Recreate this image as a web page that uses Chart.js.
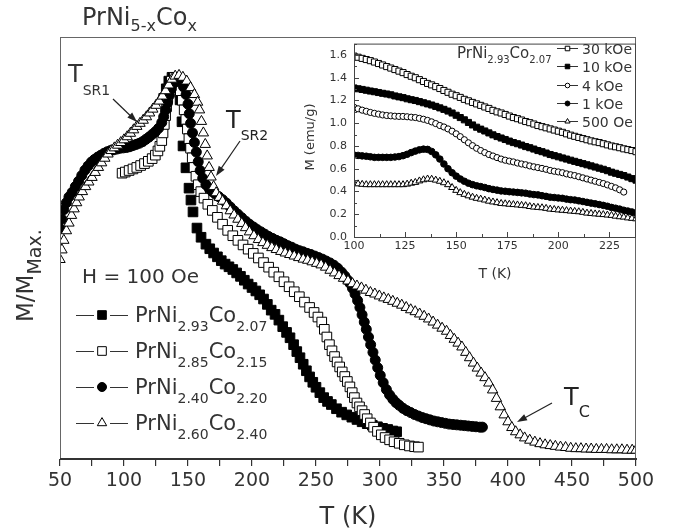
<!DOCTYPE html>
<html>
<head>
<meta charset="utf-8">
<script src="https://cdn.jsdelivr.net/npm/chart.js@4.4.0/dist/chart.umd.min.js"></script>
<style>
  body { margin: 0; background: #fff; }
  #wrap { position: relative; width: 674px; height: 531px; }
  #main { position: absolute; left: 0; top: 0; }
  #inset { position: absolute; left: 290px; top: 30px; }
</style>
</head>
<body>
<div id="wrap">
  <canvas id="main" width="674" height="531"></canvas>
  <canvas id="inset" width="384" height="260"></canvas>
</div>
<script>
// main plot, H = 100 Oe, normalised M (peak = 1)
var triT = [50,51.5,53,55,57,59,61,63,65,67.5,70,72.5,75,77.5,80,82.5,85,87.5,90,92.5,95,97.5,100,102.5,105,107.5,110,112.5,115,117.5,120,122.5,125,127.5,130,132.5,135,137.5,140,143,146,149,152,155,157.5,159,160.5,162,163.5,165,166.5,168,170,172,174.5,177,180,183,186,189,192,195,198,201.5,205,208.5,212,215.5,219,222.5,226,229.5,233,236.5,240,243.5,247,250.5,254,257.5,261,264.5,268,271.5,275,278.5,282,285.5,289,292.5,296,299.5,303,306.5,310,313.5,317,320.5,324,327.5,331,334.5,338,341.5,345,348.5,352,355,358,361,364,367,370,373,376,379,382,385,388,391,394,397,400,403,406,409.5,413,417,421,425,429,433,437,441,445,449,453,457,461,465,469,473,477,481,485,489,493,497,500];
var triM = [0.52,0.545,0.57,0.595,0.615,0.635,0.652,0.668,0.683,0.697,0.71,0.722,0.734,0.747,0.76,0.772,0.784,0.795,0.804,0.811,0.818,0.825,0.832,0.84,0.849,0.858,0.867,0.875,0.883,0.892,0.902,0.912,0.922,0.933,0.946,0.96,0.975,0.99,0.998,1.0,0.995,0.985,0.968,0.95,0.93,0.91,0.88,0.85,0.82,0.79,0.76,0.735,0.71,0.694,0.682,0.672,0.66,0.647,0.636,0.625,0.614,0.603,0.592,0.582,0.572,0.564,0.557,0.551,0.546,0.541,0.537,0.533,0.529,0.525,0.521,0.518,0.514,0.51,0.506,0.5,0.492,0.485,0.478,0.471,0.464,0.457,0.451,0.446,0.44,0.434,0.43,0.425,0.42,0.416,0.411,0.406,0.401,0.395,0.389,0.384,0.378,0.372,0.365,0.357,0.349,0.341,0.333,0.322,0.312,0.302,0.292,0.278,0.264,0.25,0.237,0.224,0.212,0.198,0.18,0.158,0.136,0.115,0.097,0.082,0.071,0.063,0.055,0.049,0.044,0.04,0.037,0.035,0.033,0.031,0.03,0.028,0.027,0.027,0.026,0.026,0.025,0.025,0.025,0.024,0.024,0.024,0.023,0.023,0.023];

var cirT = [50,51.5,53,55,57,59.5,62,64.5,67,69.5,72,74.5,77,79.5,82,84.5,87,89.5,92,94.5,97,99.5,102,104.5,107,109.5,112,114.5,117,119.5,122,124.5,127,129.5,131,132.5,134,135.5,137,139,141.5,144,146.5,148.5,150,151,152,153.5,155,156.5,158,159.5,161.5,164,166.5,169,171.5,174,177,180,183,186,189,192,195,198,201,204,207,210,213,216,219,222,225,228,231,234,237,240,243,246,249,252,255,258,261,264,267,270,272.5,274.5,276.5,278.5,280.5,282.5,284.3,286,287.7,289.3,291,292.7,294.5,296.3,298.2,300.2,302.5,305,307.5,310,312.5,315,318,321,324,327,330,333,336,339,342,345,348,351,354,357,360,363,366,369,372,375,378,380];
var cirM = [0.60,0.625,0.65,0.668,0.683,0.695,0.71,0.724,0.739,0.753,0.764,0.774,0.781,0.787,0.792,0.797,0.801,0.804,0.806,0.808,0.81,0.811,0.812,0.814,0.817,0.82,0.823,0.827,0.833,0.839,0.846,0.853,0.862,0.877,0.892,0.91,0.928,0.948,0.965,0.98,0.99,0.985,0.97,0.95,0.925,0.9,0.875,0.85,0.825,0.8,0.775,0.752,0.732,0.715,0.705,0.697,0.69,0.684,0.676,0.667,0.657,0.647,0.638,0.629,0.62,0.612,0.605,0.598,0.592,0.586,0.58,0.575,0.57,0.566,0.561,0.556,0.552,0.547,0.543,0.54,0.536,0.533,0.529,0.525,0.521,0.516,0.511,0.505,0.497,0.487,0.477,0.467,0.458,0.445,0.43,0.413,0.395,0.376,0.357,0.338,0.318,0.298,0.278,0.258,0.238,0.218,0.199,0.181,0.167,0.156,0.147,0.14,0.132,0.126,0.121,0.116,0.112,0.108,0.105,0.102,0.099,0.097,0.095,0.093,0.091,0.09,0.089,0.088,0.087,0.086,0.085,0.084,0.083,0.083];

var sqfT = [131,133,135,137.5,140,142,143.8,145.3,146.1,148.4,150.8,152.3,153.9,157,160.2,164,167,170,173,176,179,182,185,188,191,194,197,200,203,206,209,212,215,218,221,224,227,229.7,232.5,235,237.5,240,242.5,245,247.5,250,253,256,259,262,266,270,274,278,282,286,290,294,298,302,306,310,313];
var sqfM = [0.94,0.965,0.985,0.995,0.99,0.97,0.936,0.879,0.816,0.759,0.706,0.675,0.644,0.602,0.578,0.56,0.548,0.537,0.527,0.517,0.508,0.501,0.494,0.485,0.476,0.466,0.456,0.447,0.438,0.428,0.417,0.403,0.388,0.377,0.362,0.345,0.33,0.316,0.298,0.28,0.264,0.247,0.23,0.214,0.2,0.187,0.173,0.16,0.15,0.142,0.131,0.122,0.115,0.109,0.103,0.097,0.092,0.088,0.084,0.08,0.077,0.073,0.071];

var sqoT = [98.5,101,104,107,110,113,116,119,122,124.5,126.5,128,129.5,130.5,131.5,132.5,133.3,134.2,135.3,137,139.5,142,144,145.5,147,148.3,149.5,150.7,152,153.3,154.7,156.2,158,160,162.5,165.5,169,173,177,181,185,189,193,197,201,205,209,213,217,221,225,229,233,237,241,245,248.5,251.5,254.5,256.5,258.5,260.5,262.5,264.5,266.5,268.5,270.5,272.5,274.5,276.5,278.3,280,282,284,286,288,290,292.5,295,298,301,304,307.5,311,315,319,323,327,330];
var sqoM = [0.745,0.748,0.752,0.756,0.76,0.765,0.77,0.776,0.783,0.792,0.803,0.815,0.83,0.85,0.872,0.895,0.918,0.942,0.965,0.985,0.995,0.985,0.96,0.935,0.91,0.885,0.86,0.835,0.81,0.785,0.76,0.737,0.715,0.697,0.68,0.664,0.648,0.63,0.612,0.596,0.582,0.57,0.558,0.547,0.536,0.524,0.512,0.5,0.487,0.475,0.462,0.449,0.436,0.423,0.409,0.395,0.382,0.37,0.357,0.338,0.318,0.298,0.282,0.267,0.253,0.24,0.227,0.215,0.202,0.188,0.173,0.16,0.146,0.136,0.126,0.116,0.105,0.094,0.083,0.072,0.063,0.056,0.05,0.045,0.041,0.037,0.034,0.032,0.031];

var niSub = ['2.93', '2.85', '2.40', '2.60'];
var coSub = ['2.07', '2.15', '2.20', '2.40'];
var mainXTicks = [50, 100, 150, 200, 250, 300, 350, 400, 450, 500];

// inset, PrNi2.93Co2.07 at several fields (emu/g)
var insetT = [100,102,104,106,108,110,112,114,116,118,120,122,124,126,128,130,132,134,136,138,140,142,144,146,148,150,152,154,156,158,160,162,164,166,168,170,172,174,176,178,180,182,184,186,188,190,192,194,196,198,200,202,204,206,208,210,212,214,216,218,220,222,224,226,228,230,232,234,236,238];
var m30k = [1.59,1.58,1.57,1.56,1.55,1.538,1.525,1.512,1.498,1.485,1.472,1.458,1.445,1.428,1.413,1.40,1.383,1.367,1.35,1.337,1.322,1.305,1.288,1.272,1.255,1.242,1.227,1.21,1.197,1.183,1.17,1.157,1.143,1.13,1.113,1.1,1.09,1.077,1.063,1.05,1.04,1.028,1.015,1.005,0.993,0.98,0.97,0.96,0.95,0.94,0.93,0.92,0.907,0.895,0.885,0.875,0.865,0.855,0.845,0.837,0.83,0.82,0.81,0.80,0.793,0.785,0.775,0.768,0.76,0.75];
var m10k = [1.31,1.303,1.297,1.29,1.283,1.277,1.27,1.263,1.257,1.25,1.24,1.232,1.225,1.215,1.207,1.20,1.19,1.18,1.17,1.16,1.148,1.135,1.122,1.107,1.09,1.07,1.05,1.03,1.007,0.985,0.965,0.948,0.932,0.915,0.898,0.883,0.87,0.857,0.843,0.83,0.82,0.808,0.795,0.785,0.773,0.76,0.75,0.738,0.725,0.715,0.705,0.695,0.685,0.675,0.665,0.655,0.645,0.635,0.625,0.615,0.605,0.595,0.583,0.57,0.56,0.55,0.54,0.527,0.513,0.50];
var m4k = [1.14,1.127,1.115,1.105,1.095,1.087,1.08,1.073,1.068,1.065,1.062,1.06,1.06,1.057,1.053,1.05,1.043,1.035,1.025,1.012,0.997,0.98,0.967,0.95,0.93,0.907,0.882,0.855,0.828,0.803,0.78,0.76,0.742,0.725,0.712,0.698,0.685,0.675,0.667,0.66,0.65,0.642,0.635,0.625,0.617,0.61,0.603,0.595,0.585,0.578,0.572,0.565,0.555,0.547,0.54,0.53,0.52,0.51,0.5,0.49,0.48,0.47,0.458,0.445,0.432,0.415,0.395];
var m1k = [0.72,0.717,0.713,0.71,0.705,0.70,0.70,0.70,0.70,0.70,0.703,0.707,0.715,0.727,0.742,0.755,0.766,0.772,0.77,0.752,0.722,0.685,0.642,0.6,0.565,0.535,0.51,0.49,0.473,0.46,0.45,0.443,0.435,0.425,0.418,0.412,0.405,0.402,0.398,0.395,0.392,0.388,0.385,0.378,0.373,0.37,0.363,0.357,0.35,0.347,0.343,0.34,0.333,0.328,0.325,0.318,0.312,0.305,0.298,0.292,0.285,0.278,0.27,0.26,0.253,0.245,0.235,0.228,0.22,0.21];
var m500 = [0.47,0.467,0.463,0.46,0.46,0.46,0.46,0.46,0.46,0.46,0.46,0.46,0.46,0.465,0.473,0.48,0.493,0.503,0.51,0.508,0.5,0.49,0.477,0.46,0.435,0.41,0.39,0.375,0.362,0.35,0.34,0.333,0.325,0.315,0.308,0.302,0.295,0.292,0.288,0.285,0.282,0.278,0.275,0.268,0.263,0.26,0.257,0.252,0.245,0.242,0.238,0.235,0.232,0.228,0.225,0.222,0.217,0.21,0.207,0.203,0.2,0.197,0.193,0.19,0.183,0.178,0.175,0.168,0.164,0.16];
var insetFields = ['30 kOe', '10 kOe', '4 kOe', '1 kOe', '500 Oe'];

var FONT = '"DejaVu Sans", Verdana, sans-serif';
var INK = '#333';
Chart.defaults.font.family = FONT;
Chart.defaults.color = INK;

function pts(ts, ms) {
  return ms.map(function (m, i) { return { x: ts[i], y: m }; });
}

// text with subscripts: parts = [text, size, dy]
function rich(ctx, x, y, parts) {
  parts.forEach(function (p) {
    ctx.font = p[1] + 'px ' + FONT;
    ctx.fillText(p[0], x, y + (p[2] || 0));
    x += ctx.measureText(p[0]).width;
  });
}

function marker(ctx, style, x, y, r, fill) {
  ctx.beginPath();
  if (style === 'rect') {
    var s = r / Math.SQRT2;
    ctx.rect(x - s, y - s, 2 * s, 2 * s);
  } else if (style === 'circle') {
    ctx.arc(x, y, r, 0, Math.PI * 2);
  } else {
    for (var k = 0; k < 3; k++) {
      var a = k * 2 * Math.PI / 3;
      var px = x + Math.sin(a) * r, py = y - Math.cos(a) * r;
      if (k) ctx.lineTo(px, py); else ctx.moveTo(px, py);
    }
    ctx.closePath();
  }
  ctx.fillStyle = fill;
  ctx.fill();
  ctx.strokeStyle = '#000';
  ctx.lineWidth = 1;
  ctx.stroke();
}

function arrow(ctx, x1, y1, x2, y2) {
  var ang = Math.atan2(y2 - y1, x2 - x1), L = 10, W = 3.5;
  var c = Math.cos(ang), s = Math.sin(ang);
  ctx.strokeStyle = '#222';
  ctx.lineWidth = 1.2;
  ctx.beginPath();
  ctx.moveTo(x1, y1);
  ctx.lineTo(x2 - c * L * 0.8, y2 - s * L * 0.8);
  ctx.stroke();
  ctx.beginPath();
  ctx.moveTo(x2, y2);
  ctx.lineTo(x2 - L * c + W * s, y2 - L * s - W * c);
  ctx.lineTo(x2 - L * c - W * s, y2 - L * s + W * c);
  ctx.closePath();
  ctx.fillStyle = '#222';
  ctx.fill();
}

function ds(label, data, style, r, fill, order) {
  return {
    label: label, data: data, showLine: false, order: order,
    pointStyle: style, pointRadius: r, pointHoverRadius: r,
    pointBackgroundColor: fill, pointBorderColor: '#000', pointBorderWidth: 1
  };
}

// MAIN CHART
var mainStyles = [['rect', '#000'], ['rect', '#fff'], ['circle', '#000'], ['triangle', '#fff']];
var mainRadius = { rect: 6.8, circle: 5, triangle: 6 };

var mainDecor = {
  id: 'mainDecor',
  afterDraw: function (chart) {
    var ctx = chart.ctx, a = chart.chartArea;
    ctx.save();
    ctx.strokeStyle = '#666';
    ctx.lineWidth = 1;
    ctx.strokeRect(a.left + 0.5, a.top + 0.5, a.right - a.left - 1, a.bottom - a.top);
    ctx.strokeStyle = INK;
    ctx.lineWidth = 2;
    ctx.beginPath();
    ctx.moveTo(a.left, a.bottom);
    ctx.lineTo(a.right + 1, a.bottom);
    ctx.stroke();

    ctx.fillStyle = INK;
    ctx.textBaseline = 'alphabetic';
    ctx.textAlign = 'left';
    // title
    rich(ctx, 82, 25, [['PrNi', 24], ['5-x', 16, 6], ['Co', 24], ['x', 16, 6]]);
    // x title
    ctx.font = '24px ' + FONT;
    ctx.textAlign = 'center';
    ctx.fillText('T (K)', (a.left + a.right) / 2, 524);
    ctx.textAlign = 'left';
    // y title
    ctx.save();
    ctx.translate(33, 322);
    ctx.rotate(-Math.PI / 2);
    rich(ctx, 0, 0, [['M/M', 23], ['Max.', 19, 8]]);
    ctx.restore();

    // annotations
    rich(ctx, 68, 82, [['T', 24], ['SR1', 14, 13]]);
    arrow(ctx, 113, 99, 137, 122);
    rich(ctx, 226, 128, [['T', 24], ['SR2', 14, 12]]);
    arrow(ctx, 240, 141, 216, 176);
    rich(ctx, 564, 405, [['T', 24], ['C', 16, 12]]);
    arrow(ctx, 552, 403, 517, 422);

    // legend
    ctx.fillStyle = INK;
    ctx.font = '20px ' + FONT;
    ctx.fillText('H = 100 Oe', 82, 283);
    for (var i = 0; i < 4; i++) {
      var yb = 322 + 36 * i, ym = yb - 7;
      ctx.strokeStyle = INK;
      ctx.lineWidth = 1;
      ctx.beginPath();
      ctx.moveTo(76, ym + 0.5);
      ctx.lineTo(94, ym + 0.5);
      ctx.moveTo(110, ym + 0.5);
      ctx.lineTo(128, ym + 0.5);
      ctx.stroke();
      var st = mainStyles[i][0];
      marker(ctx, st, 102, ym, mainRadius[st] * 0.9, mainStyles[i][1]);
      ctx.fillStyle = INK;
      rich(ctx, 135, yb, [['PrNi', 21], [niSub[i], 14, 9], ['Co', 21], [coSub[i], 14, 9]]);
    }
    ctx.restore();
  }
};

new Chart(document.getElementById('main'), {
  type: 'scatter',
  data: {
    datasets: [
      ds('PrNi' + niSub[3] + 'Co' + coSub[3], pts(triT, triM), 'triangle', mainRadius.triangle, '#fff', 0),
      ds('PrNi' + niSub[2] + 'Co' + coSub[2], pts(cirT, cirM), 'circle', mainRadius.circle, '#000', 1),
      ds('PrNi' + niSub[1] + 'Co' + coSub[1], pts(sqoT, sqoM), 'rect', mainRadius.rect, '#fff', 2),
      ds('PrNi' + niSub[0] + 'Co' + coSub[0], pts(sqfT, sqfM), 'rect', mainRadius.rect, '#000', 3)
    ]
  },
  options: {
    responsive: false,
    animation: false,
    events: [],
    layout: { padding: { top: 37, right: 38, left: 0, bottom: 0 } },
    plugins: { legend: { display: false }, tooltip: { enabled: false } },
    scales: {
      x: {
        type: 'linear', min: 50, max: 500,
        ticks: {
          stepSize: 25, autoSkip: false, maxRotation: 0, padding: 4,
          font: { size: 19 }, color: INK,
          callback: function (v) { return mainXTicks.indexOf(v) >= 0 ? v : ''; }
        },
        grid: { display: true, drawOnChartArea: false, drawTicks: true, tickLength: 7, color: INK, lineWidth: 1.2 },
        border: { display: false },
        afterFit: function (s) { s.height = 72; }
      },
      y: {
        min: 0, max: 1.1,
        ticks: { display: false },
        grid: { display: false },
        border: { display: false },
        afterFit: function (s) { s.width = 60; }
      }
    }
  },
  plugins: [mainDecor]
});

// INSET CHART
var insetStyles = [['rect', '#fff', 4.3], ['rect', '#000', 4.3], ['circle', '#fff', 3.1], ['circle', '#000', 3.3], ['triangle', '#fff', 4]];
var insetData = [m30k, m10k, m4k, m1k, m500];

var insetDecor = {
  id: 'insetDecor',
  afterDraw: function (chart) {
    var ctx = chart.ctx, a = chart.chartArea, sx = chart.scales.x, sy = chart.scales.y;
    ctx.save();
    ctx.strokeStyle = '#444';
    ctx.lineWidth = 1;
    ctx.strokeRect(a.left + 0.5, a.top + 0.5, a.right - a.left - 1, a.bottom - a.top);
    ctx.beginPath();
    for (var t = 100; t <= 238; t += 12.5) {
      var px = Math.round(sx.getPixelForValue(t)) + 0.5;
      ctx.moveTo(px, a.bottom);
      ctx.lineTo(px, a.bottom - ((t - 100) % 25 === 0 ? 5 : 3));
    }
    for (var k = 0; k <= 17; k++) {
      var py = Math.round(sy.getPixelForValue(k / 10)) + 0.5;
      ctx.moveTo(a.left, py);
      ctx.lineTo(a.left + (k % 2 === 0 ? 5 : 3), py);
    }
    ctx.stroke();

    // absolute page coordinates from here
    ctx.translate(-290, -30);
    ctx.fillStyle = INK;
    ctx.textBaseline = 'alphabetic';
    ctx.font = '14px ' + FONT;
    ctx.textAlign = 'center';
    ctx.fillText('T (K)', 495, 278);
    ctx.save();
    ctx.translate(314, 137);
    ctx.rotate(-Math.PI / 2);
    ctx.font = '13px ' + FONT;
    ctx.fillText('M (emu/g)', 0, 0);
    ctx.restore();
    ctx.textAlign = 'left';
    rich(ctx, 457, 58, [['PrNi', 15], [niSub[0], 10, 5], ['Co', 15], [coSub[0], 10, 5]]);

    for (var i = 0; i < 5; i++) {
      var yc = Math.round(48 + 18.3 * i) + 0.5;
      ctx.strokeStyle = INK;
      ctx.lineWidth = 1;
      ctx.beginPath();
      ctx.moveTo(557, yc);
      ctx.lineTo(578, yc);
      ctx.stroke();
      marker(ctx, insetStyles[i][0], 567.5, yc, insetStyles[i][2] * 0.75, insetStyles[i][1]);
      ctx.fillStyle = INK;
      ctx.font = '14px ' + FONT;
      ctx.fillText(insetFields[i], 582, yc + 5);
    }
    ctx.restore();
  }
};

new Chart(document.getElementById('inset'), {
  type: 'scatter',
  data: {
    datasets: insetData.map(function (m, i) {
      return ds(insetFields[i], pts(insetT, m), insetStyles[i][0], insetStyles[i][2], insetStyles[i][1], i);
    })
  },
  options: {
    responsive: false,
    animation: false,
    events: [],
    layout: { padding: { top: 7, right: 38, left: 0, bottom: 0 } },
    plugins: { legend: { display: false }, tooltip: { enabled: false } },
    scales: {
      x: {
        type: 'linear', min: 100, max: 238,
        ticks: {
          stepSize: 12.5, includeBounds: false, autoSkip: false, maxRotation: 0, padding: 3,
          font: { size: 11 }, color: INK,
          callback: function (v) { return (v - 100) % 25 === 0 ? v : ''; }
        },
        grid: { display: false, drawTicks: false },
        border: { display: false },
        afterFit: function (s) { s.height = 53; }
      },
      y: {
        min: 0, max: 1.7,
        ticks: {
          stepSize: 0.1, includeBounds: false, autoSkip: false, padding: 7,
          font: { size: 11 }, color: INK,
          callback: function (v) {
            var k = Math.round(v * 10);
            return (k % 2 === 0 && k <= 16) ? (k / 10).toFixed(1) : '';
          }
        },
        grid: { display: false, drawTicks: false },
        border: { display: false },
        afterFit: function (s) { s.width = 64; }
      }
    }
  },
  plugins: [insetDecor]
});
</script>
</body>
</html>
